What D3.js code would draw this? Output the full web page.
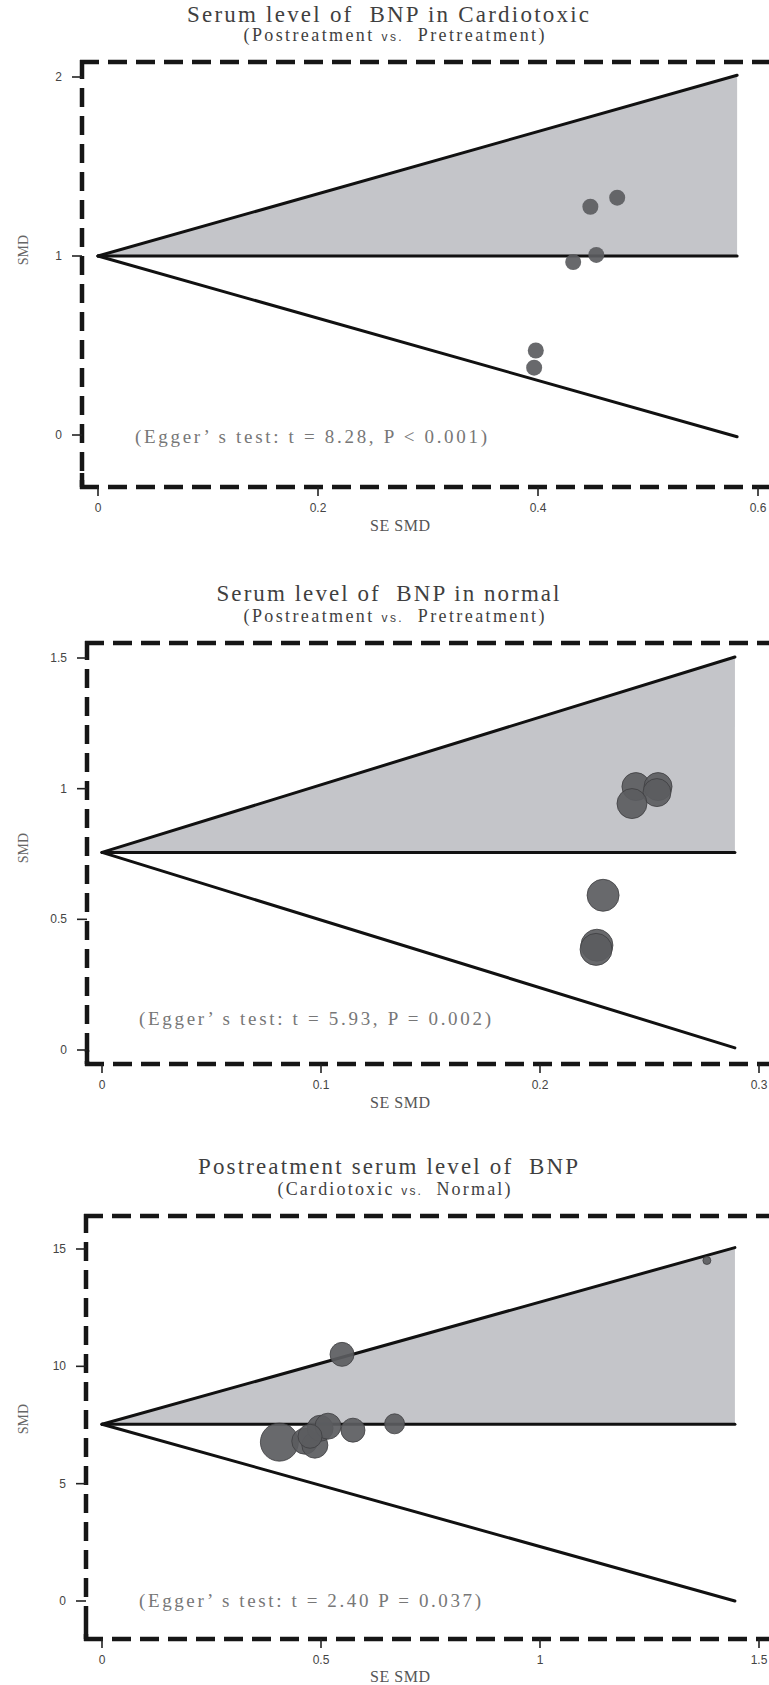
<!DOCTYPE html>
<html>
<head>
<meta charset="utf-8">
<script src="https://cdn.jsdelivr.net/npm/d3@7"></script>
<style>
  html, body { margin: 0; padding: 0; background: #fff; }
  svg { display: block; }
  text { white-space: pre; }
</style>
</head>
<body>
<script>
// Funnel plots of BNP SMD vs SE SMD, three stacked panels

//Panel 1: Serum level of BNP in Cardiotoxic
var p1SE     = [0.4476, 0.472, 0.453, 0.432, 0.398, 0.3965];
var p1SMD    = [1.275, 1.326, 1.006, 0.966, 0.472, 0.376];
var p1Weight = [1, 1, 1, 1, 1, 1];
var p1FunnelSE = [0, 0.581];
var p1Upper    = [1, 2.01];
var p1Lower    = [1, -0.01];
var p1Ticks  = [0, 1, 2];
var p1XTicks = [0, 0.2, 0.4, 0.6];

//Panel 2: Serum level of BNP in normal
var p2SE     = [0.2438, 0.2539, 0.2534, 0.242, 0.2288, 0.226, 0.2256];
var p2SMD    = [1.008, 1.008, 0.985, 0.943, 0.592, 0.401, 0.385];
var p2Weight = [19.6, 19.6, 19.6, 22.5, 25.6, 25.6, 25.6];
var p2FunnelSE = [0, 0.289];
var p2Upper    = [0.756, 1.504];
var p2Lower    = [0.756, 0.008];
var p2Ticks  = [0, 0.5, 1, 1.5];
var p2XTicks = [0, 0.1, 0.2, 0.3];

//Panel 3: Postreatment serum level of BNP
var p3SE     = [1.381, 0.548, 0.405, 0.463, 0.486, 0.498, 0.516, 0.475, 0.573, 0.668];
var p3SMD    = [14.51, 10.51, 6.77, 6.81, 6.64, 7.36, 7.45, 7.02, 7.28, 7.55];
var p3Weight = [1.6, 14.4, 36.1, 16.9, 16.9, 16.9, 16.9, 14.4, 14.4, 10];
var p3FunnelSE = [0, 1.445];
var p3Upper    = [7.53, 15.06];
var p3Lower    = [7.53, 0];
var p3Ticks  = [0, 5, 10, 15];
var p3XTicks = [0, 0.5, 1, 1.5];

var titles    = ["Serum level of  BNP in Cardiotoxic", "Serum level of  BNP in normal", "Postreatment serum level of  BNP"];
var subtitles = [["(Postreatment ", "vs.", "  Pretreatment)"], ["(Postreatment ", "vs.", "  Pretreatment)"], ["(Cardiotoxic ", "vs.", "  Normal)"]];
var eggers    = ["(Egger\u2019 s test: t = 8.28, P < 0.001)", "(Egger\u2019 s test: t = 5.93, P = 0.002)", "(Egger\u2019 s test: t = 2.40 P = 0.037)"];

//layout of each panel (pixels)
var panels = [
    {se:p1SE, smd:p1SMD, w:p1Weight, fse:p1FunnelSE, up:p1Upper, lo:p1Lower, yt:p1Ticks, xt:p1XTicks,
     frameLeft:82, frameTop:62, frameBottom:487, xr:[98,758], yr:[435,77], rMax:8,
     titleY:14, subY:35, titleW:402, subW:301, eggerY:437, eggerW:352},
    {se:p2SE, smd:p2SMD, w:p2Weight, fse:p2FunnelSE, up:p2Upper, lo:p2Lower, yt:p2Ticks, xt:p2XTicks,
     frameLeft:87, frameTop:643, frameBottom:1064, xr:[102,759], yr:[1050,658], rMax:16,
     titleY:593, subY:616, titleW:343, subW:301, eggerY:1019, eggerW:352},
    {se:p3SE, smd:p3SMD, w:p3Weight, fse:p3FunnelSE, up:p3Upper, lo:p3Lower, yt:p3Ticks, xt:p3XTicks,
     frameLeft:86, frameTop:1216, frameBottom:1639, xr:[102,759], yr:[1601,1249], rMax:19,
     titleY:1166, subY:1189, titleW:380, subW:233, eggerY:1601, eggerW:342}
];

var svgWidth = 769, svgHeight = 1685;
var serif = "'Liberation Serif', 'DejaVu Serif', serif";
var sans = "'Liberation Sans', Arial, sans-serif";

var svg = d3.select('body').append('svg')
    .attr('width', svgWidth)
    .attr('height', svgHeight);

panels.forEach(function(p, i){
    var g = svg.append('g').attr('class', 'panel' + (i+1));
    var x = d3.scaleLinear().domain([0, d3.max(p.xt)]).range(p.xr);
    var y = d3.scaleLinear().domain([0, d3.max(p.yt)]).range(p.yr);
    var r = d3.scaleSqrt().domain([0, d3.max(p.w)]).range([0, p.rMax]);

    //titles
    g.append('text')
        .attr('x', 388).attr('y', p.titleY + 8)
        .attr('text-anchor', 'middle')
        .attr('font-family', serif).attr('font-size', 23)
        .attr('fill', '#3f3f3f')
        .attr('textLength', p.titleW)
        .text(titles[i]);
    var st = g.append('text')
        .attr('x', 394).attr('y', p.subY + 6)
        .attr('text-anchor', 'middle')
        .attr('font-family', serif).attr('font-size', 18)
        .attr('fill', '#3f3f3f')
        .attr('textLength', p.subW);
    st.append('tspan').text(subtitles[i][0]);
    st.append('tspan').attr('font-size', 12).attr('font-family', sans).text(subtitles[i][1]);
    st.append('tspan').text(subtitles[i][2]);

    //funnel area (upper half shaded)
    var line = d3.line().x(function(d){ return x(d[0]); }).y(function(d){ return y(d[1]); });
    var area = [[p.fse[0], p.up[0]], [p.fse[1], p.up[1]], [p.fse[1], p.up[0]]];
    g.append('path')
        .attr('d', line(area) + 'Z')
        .attr('fill', '#c4c5c9');

    [p.up, p.lo, [p.up[0], p.up[0]]].forEach(function(vals){
        g.append('path')
            .attr('d', line(p.fse.map(function(s, k){ return [s, vals[k]]; })))
            .attr('fill', 'none')
            .attr('stroke', '#111')
            .attr('stroke-width', 3)
            .attr('stroke-linecap', 'round');
    });

    //studies
    var pts = p.se.map(function(s, k){ return {se:s, smd:p.smd[k], w:p.w[k]}; });
    g.selectAll('circle.study').data(pts).enter().append('circle')
        .attr('class', 'study')
        .attr('cx', function(d){ return x(d.se); })
        .attr('cy', function(d){ return y(d.smd); })
        .attr('r', function(d){ return r(d.w); })
        .attr('fill', '#5b5c60')
        .attr('fill-opacity', 0.92)
        .attr('stroke', '#3d3d40')
        .attr('stroke-width', i === 0 ? 0 : 0.8);

    //egger text
    g.append('text')
        .attr('x', p.xr[0] + 37).attr('y', p.eggerY + 6)
        .attr('font-family', serif).attr('font-size', 19)
        .attr('fill', '#777')
        .attr('textLength', p.eggerW)
        .text(eggers[i]);

    //dashed plot frame
    var fl = p.frameLeft, ft = p.frameTop, fb = p.frameBottom;
    var dash = '19 9';
    var frame = g.append('g')
        .attr('stroke', '#161616').attr('stroke-width', 4.5)
        .attr('fill', 'none');
    frame.append('line').attr('x1', fl - 2).attr('y1', ft).attr('x2', svgWidth + 30).attr('y2', ft)
        .attr('stroke-dasharray', dash);
    frame.append('line').attr('x1', fl).attr('y1', ft - 2).attr('x2', fl).attr('y2', fb)
        .attr('stroke-dasharray', dash);
    frame.append('line').attr('x1', fl - 2).attr('y1', fb).attr('x2', svgWidth + 30).attr('y2', fb)
        .attr('stroke-dasharray', dash);
    frame.append('line').attr('x1', fl).attr('y1', fb + 2).attr('x2', fl).attr('y2', fb - 14);

    //y axis ticks + labels
    var axes = g.append('g');
    p.yt.forEach(function(t){
        axes.append('line')
            .attr('x1', fl - 10).attr('x2', fl)
            .attr('y1', y(t)).attr('y2', y(t))
            .attr('stroke', '#222').attr('stroke-width', 1.6);
        axes.append('text')
            .attr('x', fl - 20).attr('y', y(t) + 4)
            .attr('text-anchor', 'end')
            .attr('font-family', sans).attr('font-size', 12)
            .attr('fill', '#444')
            .text(t);
    });
    //x axis ticks + labels
    p.xt.forEach(function(t){
        axes.append('line')
            .attr('x1', x(t)).attr('x2', x(t))
            .attr('y1', fb).attr('y2', fb + 9)
            .attr('stroke', '#222').attr('stroke-width', 1.6);
        axes.append('text')
            .attr('x', x(t)).attr('y', fb + 25)
            .attr('text-anchor', 'middle')
            .attr('font-family', sans).attr('font-size', 12)
            .attr('fill', '#444')
            .text(t);
    });

    //axis titles
    g.append('text')
        .attr('x', 400).attr('y', Math.min(fb + 44, svgHeight - 3))
        .attr('text-anchor', 'middle')
        .attr('font-family', serif).attr('font-size', 16)
        .attr('fill', '#555')
        .attr('textLength', 60)
        .text('SE SMD');
    var ymid = (p.yr[0] + p.yr[1]) / 2 - 6;
    g.append('text')
        .attr('transform', 'translate(28,' + ymid + ') rotate(-90)')
        .attr('text-anchor', 'middle')
        .attr('font-family', serif).attr('font-size', 14)
        .attr('fill', '#666')
        .text('SMD');
});
</script>
</body>
</html>
